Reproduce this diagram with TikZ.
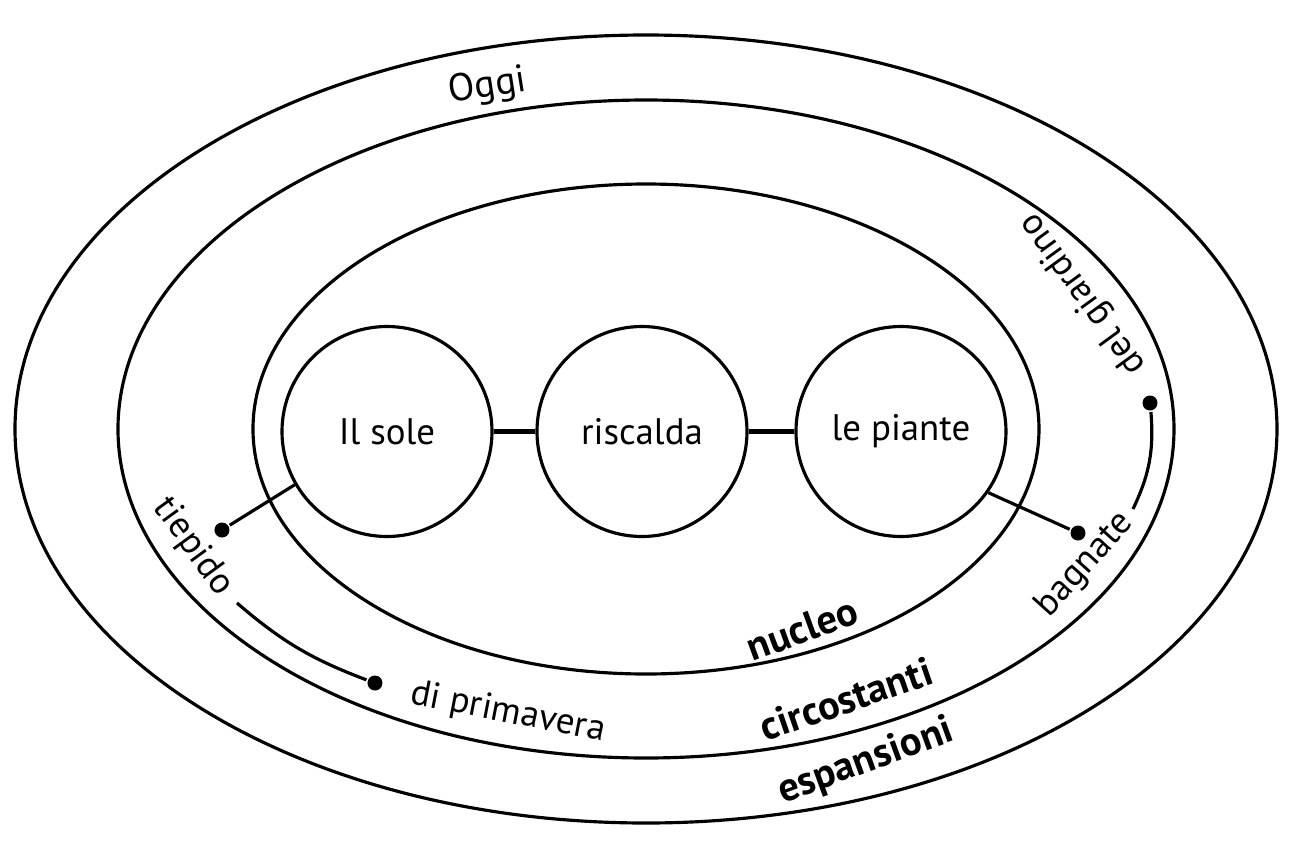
\documentclass[tikz,border=0pt]{standalone}
\usepackage{fontspec}
\setmainfont{PT Sans}
\begin{document}
\begin{tikzpicture}[line width=1.8pt,
    bubble/.style={circle,draw,line width=1.8pt,minimum size=4.2cm,inner sep=0pt,font=\fontsize{21}{24}\selectfont},
    lbl/.style={font=\fontsize{21}{24}\selectfont,inner sep=1pt},
    bold lbl/.style={font=\fontsize{23}{26}\selectfont\bfseries,inner sep=1pt},
    dot/.style={circle,fill,inner sep=0pt,minimum size=0.3cm}]
        \useasboundingbox (-12.92,-8.5) rectangle (12.94,8.58);

        % Rings
        \draw (0,0) ellipse (12.62 and 7.88);
        \draw (0,0) ellipse (10.56 and 6.58);
        \draw (0,0) ellipse (7.86 and 4.9);

        % Core
        \node[bubble] (sole) at (-5.18,-0.05) {Il sole};
        \node[bubble] (risc) at (-0.08,-0.05) {riscalda};
        \node[bubble] (piante) at (5.1,-0.05) {le piante};
        \draw[line width=2.8pt] (sole) -- (risc);
        \draw[line width=2.8pt] (risc) -- (piante);

        % Ring names
        \node[lbl,font=\fontsize{22}{25}\selectfont,rotate=9] (oggi) at (-3.16,6.84) {Oggi};
        \node[bold lbl,rotate=20] (nucleo) at (3.12,-4.0) {nucleo};
        \node[bold lbl,rotate=19] (circ) at (4.0,-5.4) {circostanti};
        \node[bold lbl,rotate=20] (esp) at (4.4,-6.66) {espansioni};

        % Left side
        \node[dot] (tiepdot) at (-8.48,-2.02) {};
        \node[lbl,rotate=-54] (tiepido) at (-9.06,-2.36) {tiepido};
        \coordinate (tipend) at (-8.18,-3.48);
        \node[dot] (primdot) at (-5.42,-5.08) {};
        \node[lbl,rotate=-11] (prim) at (-2.76,-5.68) {di primavera};
        \draw (sole.210) -- (tiepdot);
        \draw (tipend) to[bend right=10] (primdot);

        % Right side
        \node[lbl,rotate=126] (giard) at (8.74,2.7) {del giardino};
        \node[dot] (giardot) at (10.08,0.52) {};
        \coordinate (bagend) at (9.74,-1.6);
        \node[dot] (bagdot) at (8.64,-2.08) {};
        \node[lbl,rotate=48] (bagnate) at (8.78,-2.72) {bagnate};
        \draw (piante.-35) -- (bagdot);
        \draw (giardot) to[bend left=15] (bagend);
    \end{tikzpicture}
\end{document}
